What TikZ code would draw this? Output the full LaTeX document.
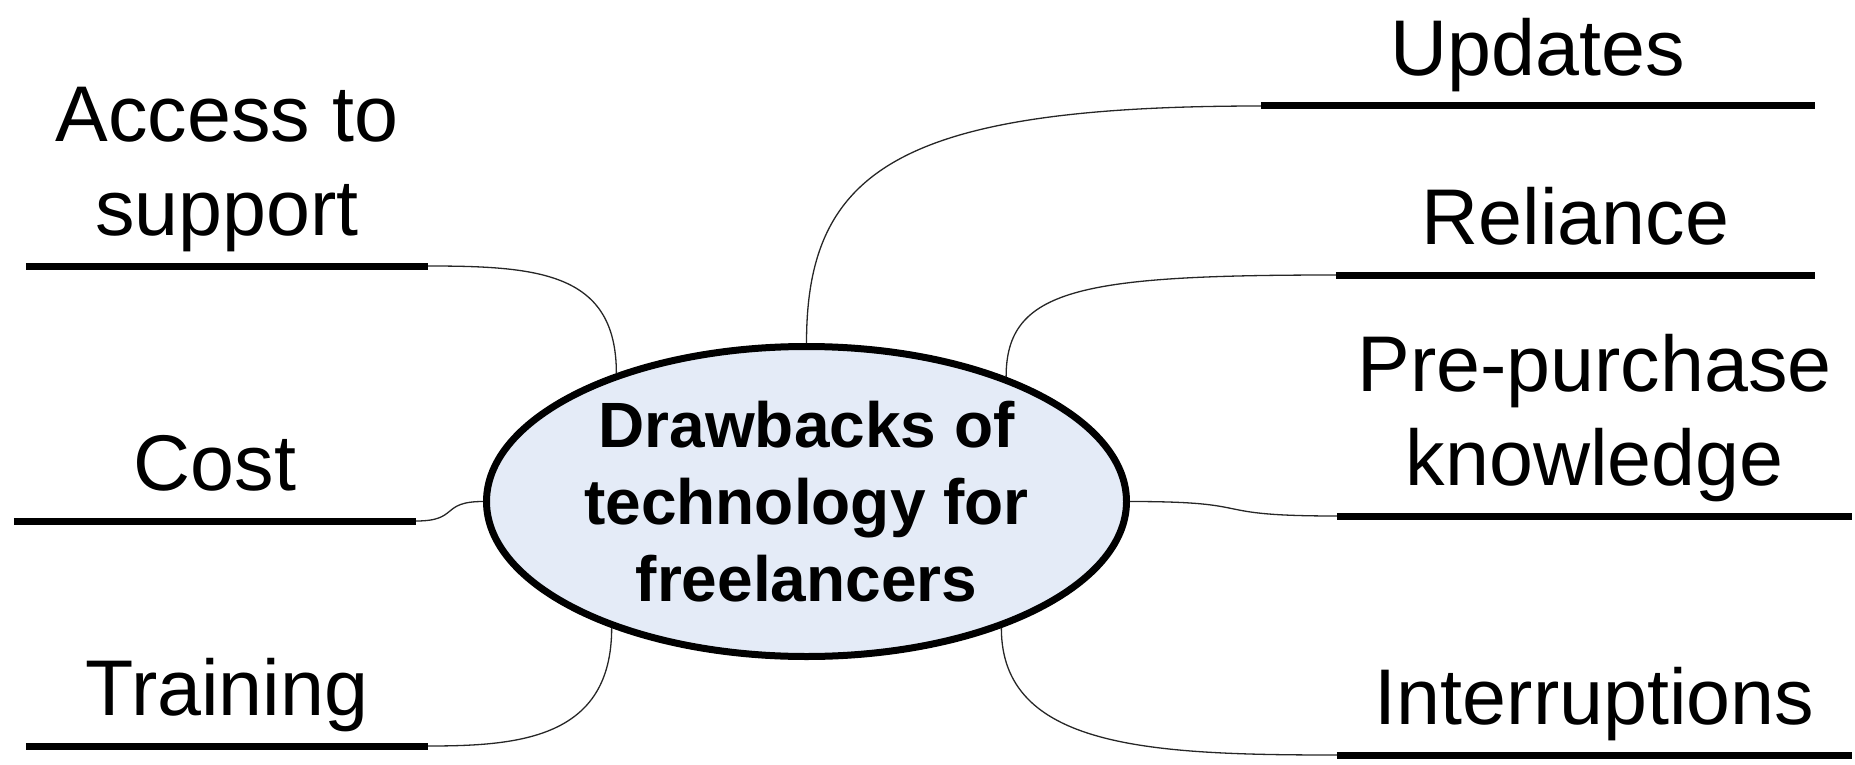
\documentclass[tikz,border=0pt]{standalone}
\usepackage{fontspec}
\setmainfont{Liberation Sans}
\usepackage{tikz}
\usetikzlibrary{shapes.geometric}
\definecolor{hubFill}{RGB}{228,235,247}
\tikzset{
    x=1pt, y=-1pt, % one unit is one pixel of the original, y runs down
    styleHub/.style={ellipse, draw, line width=7pt, fill=hubFill, inner sep=0pt,
        minimum width=640pt, minimum height=310pt, align=center,
        font=\fontsize{64}{77}\selectfont\bfseries}, % the central topic
    styleTopic/.style={inner sep=0pt, text depth=30pt, anchor=south, align=center,
        font=\fontsize{79}{94}\selectfont}, % text sitting on its bar
    styleBar/.style={line width=7pt}, % the thick underline
    styleLink/.style={line width=1.3pt, black!85}, % thin curved branch
}
\begin{document}
\begin{tikzpicture}
    \useasboundingbox (0,0) rectangle (1855,765);
    \node[styleHub] (hub) at (806.5,501.5) {Drawbacks of\\technology for\\freelancers};
    % right side
    \node[styleTopic, minimum width=554pt] (upd) at (1538,106) {Updates};
    \node[styleTopic, minimum width=479pt] (rel) at (1575.5,275) {Reliance};
    \node[styleTopic, minimum width=515pt] (pre) at (1594.5,516) {Pre-purchase\\knowledge};
    \node[styleTopic, minimum width=515pt] (intr) at (1594.5,755) {Interruptions};
    % left side
    \node[styleTopic, minimum width=402pt] (acc) at (227,266) {Access to\\support};
    \node[styleTopic, minimum width=402pt] (cost) at (215,521) {Cost};
    \node[styleTopic, minimum width=402pt] (train) at (227,746) {Training};
    \foreach \t in {upd, rel, pre, intr, acc, cost, train}
        \draw[styleBar] (\t.south west) -- (\t.south east);
    \draw[styleLink]
    (hub.90) .. controls +(0,-173) and +(-361,0) .. (upd.south west)
    (hub.32.5) .. controls +(0,-88) and +(-256,0) .. (rel.south west)
    (hub.east) .. controls +(135,0) and +(-137,0) .. (pre.south west)
    (hub.327.4) .. controls +(0,120) and +(-187,0) .. (intr.south west)
    (hub.146.5) .. controls +(0,-100) and +(112,0) .. (acc.south east)
    (hub.west) .. controls +(-43,0) and +(43,0) .. (cost.south east)
    (hub.213.3) .. controls +(0,110) and +(92,0) .. (train.south east);
\end{tikzpicture}
\end{document}
